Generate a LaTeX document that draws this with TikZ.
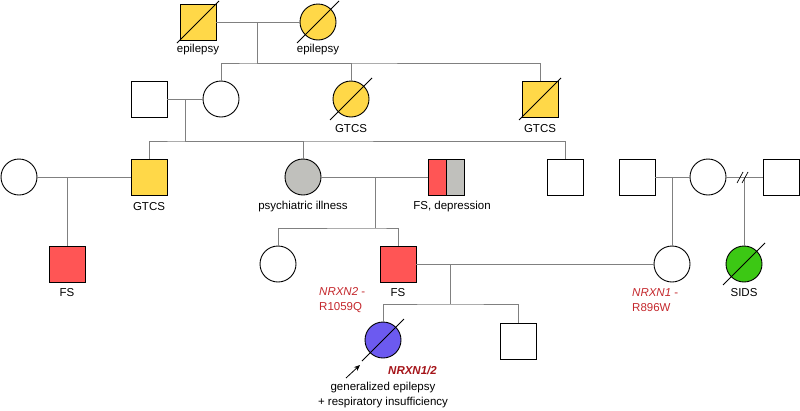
\documentclass[tikz,border=0pt]{standalone}
\usepackage{fontspec}
\setmainfont{Liberation Sans}
\usetikzlibrary{arrows.meta}
\definecolor{yel}{RGB}{255,216,72}
\definecolor{redf}{RGB}{255,85,85}
\definecolor{grayf}{RGB}{192,192,188}
\definecolor{greenf}{RGB}{60,200,20}
\definecolor{bluef}{RGB}{108,90,240}
\definecolor{gentxt}{RGB}{196,40,45}
\definecolor{gendark}{RGB}{165,20,25}
\definecolor{connc}{RGB}{128,128,128}
\begin{document}
\begin{tikzpicture}[x=1pt,y=-1pt,
  ind/.style={draw=black, line width=0.9pt, minimum size=36pt, inner sep=0pt},
  male/.style={ind, rectangle},
  female/.style={ind, circle},
  conn/.style={draw=connc, line width=0.9pt},
  slash/.style={draw=black, line width=0.9pt},
  lbl/.style={font=\fontsize{11.5}{15}\selectfont, inner sep=0pt},
  gen/.style={lbl, text=gentxt, align=left, anchor=west}]
\useasboundingbox (0,0) rectangle (800,410);
% Generation I
\node[male, fill=yel] (I1) at (198,22) {};
\node[female, fill=yel] (I2) at (318,22) {};
% Generation II
\node[male] (II1) at (149,99) {};
\node[female] (II2) at (221,99) {};
\node[female, fill=yel] (II3) at (351,99) {};
\node[male, fill=yel] (II4) at (540,99) {};
% Generation III
\node[female] (III1) at (19,177) {};
\node[male, fill=yel] (III2) at (149,177) {};
\node[female, fill=grayf] (III3) at (303,177) {};
\node[male, path picture={
   \fill[redf] (path picture bounding box.south west) rectangle (path picture bounding box.north);
   \fill[grayf] (path picture bounding box.south) rectangle (path picture bounding box.north east);
   \draw[black, line width=0.9pt] (path picture bounding box.south) -- (path picture bounding box.north);}] (III4) at (446,177) {};
\node[male] (III5) at (565,177) {};
\node[male] (III6) at (637,177) {};
\node[female] (III7) at (708,177) {};
\node[male] (III8) at (781,177) {};
% Generation IV
\node[male, fill=redf] (IV1) at (67,264) {};
\node[female] (IV2) at (278,264) {};
\node[male, fill=redf] (IV3) at (398,264) {};
\node[female] (IV4) at (672,264) {};
\node[female, fill=greenf] (IV5) at (744,264) {};
% Generation V
\node[female, fill=bluef] (V1) at (383,340) {};
\node[male] (V2) at (518,341) {};
% deceased slashes
\foreach \n in {I1,I2,II3,II4,IV5,V1}
  \draw[slash] ([shift={(-21,21)}]\n.center) -- ([shift={(21,-21)}]\n.center);
% connectors
\coordinate (cI) at (257,22);
\coordinate (sI) at (257,63);
\draw[conn] (I1.east) -- (I2.west);
\draw[conn] (cI) -- (sI);
\draw[conn] (II2.north) |- (sI) -| (II4.north);
\draw[conn] (sI) -| (II3.north);
\coordinate (cII) at (185,99);
\coordinate (sII) at (185,141);
\draw[conn] (II1.east) -- (II2.west);
\draw[conn] (cII) -- (sII);
\draw[conn] (III2.north) |- (sII) -| (III5.north);
\draw[conn] (sII) -| (III3.north);
\coordinate (cA) at (67,177);
\draw[conn] (III1.east) -- (III2.west);
\draw[conn] (cA) -- (IV1.north);
\coordinate (cB) at (375,177);
\coordinate (sB) at (375,228);
\draw[conn] (III3.east) -- (III4.west);
\draw[conn] (cB) -- (sB);
\draw[conn] (IV2.north) |- (sB) -| (IV3.north);
\coordinate (cC) at (672,177);
\draw[conn] (III6.east) -- (III7.west);
\draw[conn] (cC) -- (IV4.north);
\coordinate (cD) at (744,177);
\draw[conn] (III7.east) -- (III8.west);
\draw[conn] (cD) -- (IV5.north);
\draw[black, line width=0.7pt] (737,183) -- (743,172);
\draw[black, line width=0.7pt] (742,183) -- (748,172);
\coordinate (cE) at (450,264);
\coordinate (sE) at (450,304);
\draw[conn] (IV3.east) -- (IV4.west);
\draw[conn] (cE) -- (sE);
\draw[conn] (V1.north) |- (sE) -| (V2.north);
% proband arrow
\coordinate (pa) at (346,378);
\coordinate (pb) at (360,365);
\draw[black, line width=0.8pt, -{Stealth[length=6pt,width=5pt]}] (pa) -- (pb);
% labels
\node[lbl] (t1) at (198,50) {epilepsy};
\node[lbl] (t2) at (318,50) {epilepsy};
\node[lbl] (t3) at (351,129) {GTCS};
\node[lbl] (t4) at (540,129) {GTCS};
\node[lbl] (t5) at (149,207) {GTCS};
\node[lbl] (t6) at (303,207) {psychiatric illness};
\node[lbl] (t7) at (452,207) {FS, depression};
\node[lbl] (t8) at (67,293) {FS};
\node[lbl] (t9) at (398,293) {FS};
\node[lbl] (t10) at (744,293) {SIDS};
\node[gen] (g1) at (319,300.5) {\textit{NRXN2} -\\R1059Q};
\node[gen] (g2) at (632,300.5) {\textit{NRXN1} -\\R896W};
\node[lbl, text=gendark, anchor=west] (g3) at (388,370) {\textbf{\textit{NRXN1/2}}};
\node[lbl, align=center] (t11) at (383,395.5) {generalized epilepsy\\+ respiratory insufficiency};
\end{tikzpicture}
\end{document}
